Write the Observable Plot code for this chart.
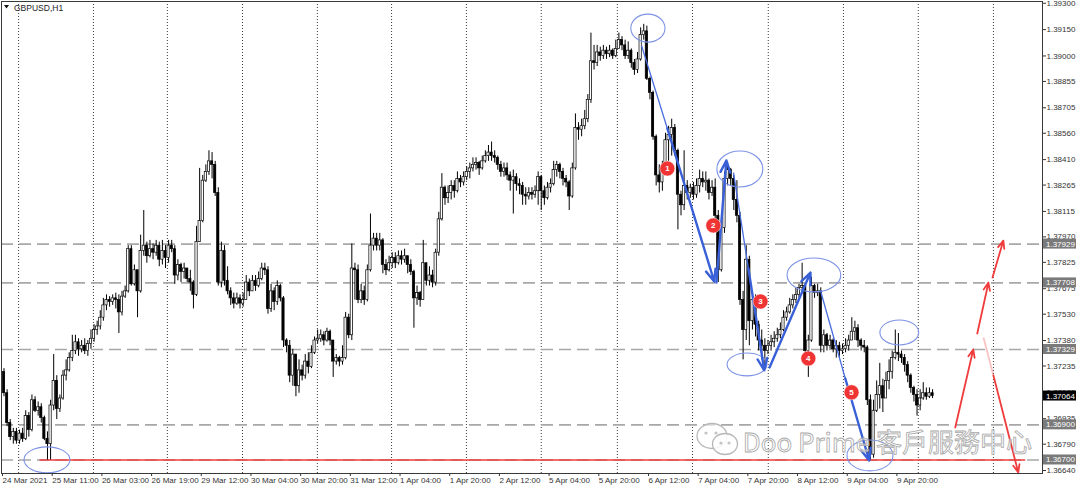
<!DOCTYPE html>
<html><head><meta charset="utf-8">
<script src="https://cdn.jsdelivr.net/npm/d3@7"></script>
<script src="https://cdn.jsdelivr.net/npm/@observablehq/plot@0.6"></script>
<style>
html,body{margin:0;padding:0;background:#fff;}
#chart{width:1080px;height:489px;overflow:hidden;}
</style></head><body><div id="chart"></div>
<script>
const symbol = "GBPUSD,H1";
const xLabels = ["24 Mar 2021","25 Mar 11:00","26 Mar 03:00","26 Mar 19:00","29 Mar 12:00","30 Mar 04:00","30 Mar 20:00","31 Mar 12:00","1 Apr 04:00","1 Apr 20:00","2 Apr 12:00","5 Apr 04:00","5 Apr 20:00","6 Apr 12:00","7 Apr 04:00","7 Apr 20:00","8 Apr 12:00","9 Apr 04:00","9 Apr 20:00"];
const barsPerLabel = 16;

const open = [1.3720,
1.3708,1.3691,1.3683,1.3686,1.3681,1.3685,1.3682,1.3695,1.3687,1.3704,
1.3698,1.3700,1.3694,1.3682,1.3679,1.3701,1.3715,1.3699,1.3705,1.3718,
1.3721,1.3728,1.3732,1.3737,1.3733,1.3735,1.3732,1.3736,1.3739,1.3744,
1.3746,1.3751,1.3758,1.3761,1.3760,1.3762,1.3761,1.3754,1.3763,1.3766,
1.3790,1.3770,1.3778,1.3766,1.3789,1.3792,1.3786,1.3790,1.3788,1.3792,
1.3784,1.3789,1.3785,1.3792,1.3790,1.3775,1.3781,1.3777,1.3779,1.3773,
1.3771,1.3764,1.3794,1.3806,1.3829,1.3834,1.3840,1.3838,1.3822,1.3771,
1.3789,1.3772,1.3766,1.3762,1.3759,1.3762,1.3759,1.3761,1.3771,1.3766,
1.3772,1.3769,1.3773,1.3779,1.3778,1.3756,1.3766,1.3760,1.3769,1.3762,
1.3738,1.3735,1.3718,1.3730,1.3712,1.3721,1.3718,1.3726,1.3723,1.3731,
1.3738,1.3739,1.3741,1.3738,1.3743,1.3738,1.3726,1.3728,1.3726,1.3728,
1.3751,1.3741,1.3779,1.3778,1.3761,1.3766,1.3761,1.3778,1.3792,1.3796,
1.3792,1.3795,1.3781,1.3778,1.3782,1.3785,1.3782,1.3786,1.3784,1.3786,
1.3781,1.3777,1.3762,1.3765,1.3761,1.3782,1.3772,1.3775,1.3771,1.3788,
1.3807,1.3825,1.3819,1.3822,1.3826,1.3823,1.3830,1.3828,1.3831,1.3834,
1.3836,1.3838,1.3839,1.3836,1.3840,1.3843,1.3845,1.3843,1.3842,1.3838,
1.3834,1.3836,1.3832,1.3829,1.3831,1.3827,1.3826,1.3821,1.3820,1.3822,
1.3821,1.3823,1.3831,1.3823,1.3819,1.3825,1.3827,1.3835,1.3838,1.3834,
1.3830,1.3828,1.3820,1.3836,1.3859,1.3858,1.3860,1.3864,1.3875,1.3897,
1.3896,1.3902,1.3900,1.3903,1.3901,1.3903,1.3900,1.3904,1.3909,1.3906,
1.3900,1.3903,1.3896,1.3892,1.3898,1.3912,1.3914,1.3887,1.3879,1.3854,
1.3832,1.3828,1.3836,1.3852,1.3855,1.3859,1.3846,1.3821,1.3815,1.3826,
1.3822,1.3825,1.3821,1.3826,1.3830,1.3828,1.3829,1.3822,1.3825,1.3809,
1.3778,1.3802,1.3830,1.3835,1.3830,1.3818,1.3809,1.3761,1.3744,1.3784,
1.3749,1.3761,1.3747,1.3738,1.3735,1.3732,1.3735,1.3737,1.3739,1.3741,
1.3744,1.3751,1.3754,1.3758,1.3761,1.3764,1.3768,1.3769,1.3732,1.3738,
1.3769,1.3765,1.3766,1.3735,1.3741,1.3735,1.3738,1.3733,1.3735,1.3732,
1.3733,1.3735,1.3738,1.3743,1.3745,1.3738,1.3735,1.3734,1.3704,1.3673,
1.3698,1.3707,1.3712,1.3705,1.3715,1.3720,1.3728,1.3731,1.3730,1.3728,
1.3724,1.3718,1.3711,1.3707,1.3701,1.3705,1.3708,1.3706,1.3708];

const high = [
1.3722,1.3710,1.3693,1.3688,1.3688,1.3687,1.3688,1.3698,1.3697,1.3707,
1.3706,1.3703,1.3702,1.3695,1.3686,1.3704,1.3730,1.3718,1.3707,1.3721,
1.3727,1.3731,1.3741,1.3741,1.3739,1.3738,1.3739,1.3738,1.3744,1.3747,
1.3749,1.3755,1.3762,1.3764,1.3763,1.3764,1.3765,1.3764,1.3766,1.3769,
1.3792,1.3792,1.3781,1.3778,1.3798,1.3812,1.3794,1.3795,1.3793,1.3795,
1.3794,1.3795,1.3792,1.3795,1.3795,1.3792,1.3784,1.3782,1.3782,1.3779,
1.3778,1.3772,1.3803,1.3836,1.3832,1.3838,1.3846,1.3845,1.3840,1.3825,
1.3794,1.3792,1.3780,1.3768,1.3765,1.3765,1.3764,1.3765,1.3775,1.3773,
1.3775,1.3775,1.3777,1.3782,1.3782,1.3780,1.3770,1.3768,1.3772,1.3770,
1.3763,1.3739,1.3738,1.3733,1.3730,1.3727,1.3724,1.3730,1.3731,1.3735,
1.3740,1.3744,1.3744,1.3743,1.3745,1.3744,1.3738,1.3730,1.3729,1.3735,
1.3754,1.3753,1.3793,1.3782,1.3781,1.3770,1.3769,1.3781,1.3810,1.3799,
1.3799,1.3799,1.3796,1.3784,1.3786,1.3788,1.3788,1.3789,1.3789,1.3790,
1.3786,1.3784,1.3778,1.3769,1.3766,1.3795,1.3782,1.3780,1.3778,1.3790,
1.3811,1.3833,1.3826,1.3826,1.3829,1.3829,1.3834,1.3832,1.3834,1.3837,
1.3839,1.3842,1.3842,1.3840,1.3843,1.3846,1.3849,1.3851,1.3846,1.3843,
1.3840,1.3839,1.3839,1.3834,1.3835,1.3833,1.3830,1.3828,1.3825,1.3825,
1.3825,1.3826,1.3834,1.3832,1.3826,1.3828,1.3830,1.3840,1.3840,1.3839,
1.3836,1.3832,1.3829,1.3839,1.3867,1.3862,1.3864,1.3869,1.3878,1.3913,
1.3906,1.3906,1.3905,1.3906,1.3905,1.3906,1.3904,1.3909,1.3913,1.3911,
1.3909,1.3908,1.3904,1.3898,1.3902,1.3916,1.3918,1.3917,1.3888,1.3880,
1.3855,1.3838,1.3840,1.3856,1.3860,1.3864,1.3861,1.3847,1.3823,1.3846,
1.3829,1.3827,1.3828,1.3830,1.3835,1.3834,1.3834,1.3830,1.3829,1.3830,
1.3812,1.3803,1.3834,1.3839,1.3836,1.3832,1.3829,1.3811,1.3766,1.3792,
1.3786,1.3766,1.3764,1.3749,1.3744,1.3739,1.3738,1.3741,1.3743,1.3745,
1.3748,1.3755,1.3757,1.3762,1.3764,1.3768,1.3770,1.3782,1.3770,1.3741,
1.3774,1.3770,1.3770,1.3768,1.3744,1.3742,1.3741,1.3739,1.3738,1.3737,
1.3736,1.3739,1.3741,1.3751,1.3749,1.3747,1.3739,1.3738,1.3735,1.3707,
1.3704,1.3715,1.3725,1.3716,1.3720,1.3727,1.3732,1.3744,1.3742,1.3732,
1.3730,1.3726,1.3719,1.3712,1.3710,1.3710,1.3714,1.3711,1.3711,1.3710];

const low = [
1.3706,1.3689,1.3681,1.3679,1.3679,1.3679,1.3680,1.3681,1.3683,1.3686,
1.3697,1.3695,1.3691,1.3681,1.3670,1.3670,1.3698,1.3693,1.3697,1.3704,
1.3715,1.3720,1.3726,1.3730,1.3729,1.3731,1.3730,1.3729,1.3733,1.3737,
1.3741,1.3744,1.3749,1.3755,1.3757,1.3758,1.3756,1.3742,1.3752,1.3762,
1.3765,1.3769,1.3769,1.3751,1.3765,1.3786,1.3782,1.3785,1.3784,1.3786,
1.3780,1.3781,1.3779,1.3782,1.3788,1.3770,1.3772,1.3771,1.3773,1.3771,
1.3766,1.3756,1.3763,1.3794,1.3805,1.3828,1.3832,1.3830,1.3820,1.3769,
1.3768,1.3769,1.3764,1.3758,1.3756,1.3758,1.3756,1.3757,1.3761,1.3763,
1.3766,1.3766,1.3768,1.3772,1.3775,1.3753,1.3754,1.3755,1.3758,1.3760,
1.3734,1.3731,1.3714,1.3712,1.3706,1.3708,1.3715,1.3716,1.3719,1.3722,
1.3730,1.3736,1.3737,1.3735,1.3737,1.3735,1.3717,1.3724,1.3723,1.3724,
1.3727,1.3739,1.3738,1.3761,1.3759,1.3759,1.3758,1.3760,1.3777,1.3789,
1.3789,1.3789,1.3776,1.3775,1.3777,1.3779,1.3779,1.3781,1.3781,1.3782,
1.3776,1.3775,1.3745,1.3758,1.3757,1.3761,1.3769,1.3769,1.3768,1.3769,
1.3786,1.3806,1.3815,1.3816,1.3818,1.3819,1.3822,1.3825,1.3826,1.3829,
1.3830,1.3834,1.3835,1.3832,1.3835,1.3839,1.3840,1.3840,1.3839,1.3835,
1.3831,1.3831,1.3829,1.3823,1.3810,1.3823,1.3821,1.3815,1.3815,1.3818,
1.3818,1.3819,1.3815,1.3812,1.3815,1.3818,1.3822,1.3826,1.3831,1.3830,
1.3826,1.3825,1.3812,1.3819,1.3835,1.3852,1.3854,1.3858,1.3862,1.3873,
1.3892,1.3894,1.3897,1.3898,1.3898,1.3899,1.3898,1.3899,1.3904,1.3903,
1.3898,1.3898,1.3893,1.3889,1.3890,1.3897,1.3909,1.3886,1.3875,1.3852,
1.3826,1.3822,1.3823,1.3832,1.3840,1.3843,1.3843,1.3801,1.3809,1.3812,
1.3818,1.3819,1.3818,1.3819,1.3822,1.3825,1.3823,1.3818,1.3820,1.3806,
1.3771,1.3777,1.3799,1.3826,1.3826,1.3812,1.3805,1.3758,1.3727,1.3738,
1.3735,1.3744,1.3740,1.3732,1.3727,1.3724,1.3730,1.3732,1.3734,1.3737,
1.3739,1.3743,1.3749,1.3753,1.3756,1.3759,1.3762,1.3765,1.3730,1.3717,
1.3737,1.3762,1.3763,1.3731,1.3731,1.3732,1.3733,1.3731,1.3728,1.3728,
1.3730,1.3731,1.3732,1.3738,1.3738,1.3734,1.3732,1.3731,1.3701,1.3670,
1.3671,1.3697,1.3699,1.3697,1.3707,1.3710,1.3716,1.3727,1.3726,1.3725,
1.3720,1.3714,1.3708,1.3703,1.3695,1.3698,1.3704,1.3704,1.3705,1.3705];

const close = [
1.3708,1.3691,1.3683,1.3686,1.3681,1.3685,1.3682,1.3695,1.3687,1.3704,
1.3698,1.3700,1.3694,1.3682,1.3679,1.3701,1.3715,1.3699,1.3705,1.3718,
1.3721,1.3728,1.3732,1.3737,1.3733,1.3735,1.3732,1.3736,1.3739,1.3744,
1.3746,1.3751,1.3758,1.3761,1.3760,1.3762,1.3761,1.3754,1.3763,1.3766,
1.3790,1.3770,1.3778,1.3766,1.3789,1.3792,1.3786,1.3790,1.3788,1.3792,
1.3784,1.3789,1.3785,1.3792,1.3790,1.3775,1.3781,1.3777,1.3779,1.3773,
1.3771,1.3764,1.3794,1.3806,1.3829,1.3834,1.3840,1.3838,1.3822,1.3771,
1.3789,1.3772,1.3766,1.3762,1.3759,1.3762,1.3759,1.3761,1.3771,1.3766,
1.3772,1.3769,1.3773,1.3779,1.3778,1.3756,1.3766,1.3760,1.3769,1.3762,
1.3738,1.3735,1.3718,1.3730,1.3712,1.3721,1.3718,1.3726,1.3723,1.3731,
1.3738,1.3739,1.3741,1.3738,1.3743,1.3738,1.3726,1.3728,1.3726,1.3728,
1.3751,1.3741,1.3779,1.3778,1.3761,1.3766,1.3761,1.3778,1.3792,1.3796,
1.3792,1.3795,1.3781,1.3778,1.3782,1.3785,1.3782,1.3786,1.3784,1.3786,
1.3781,1.3777,1.3762,1.3765,1.3761,1.3782,1.3772,1.3775,1.3771,1.3788,
1.3807,1.3825,1.3819,1.3822,1.3826,1.3823,1.3830,1.3828,1.3831,1.3834,
1.3836,1.3838,1.3839,1.3836,1.3840,1.3843,1.3845,1.3843,1.3842,1.3838,
1.3834,1.3836,1.3832,1.3829,1.3831,1.3827,1.3826,1.3821,1.3820,1.3822,
1.3821,1.3823,1.3831,1.3823,1.3819,1.3825,1.3827,1.3835,1.3838,1.3834,
1.3830,1.3828,1.3820,1.3836,1.3859,1.3858,1.3860,1.3864,1.3875,1.3897,
1.3896,1.3902,1.3900,1.3903,1.3901,1.3903,1.3900,1.3904,1.3909,1.3906,
1.3900,1.3903,1.3896,1.3892,1.3898,1.3912,1.3914,1.3887,1.3879,1.3854,
1.3832,1.3828,1.3836,1.3852,1.3855,1.3859,1.3846,1.3821,1.3815,1.3826,
1.3822,1.3825,1.3821,1.3826,1.3830,1.3828,1.3829,1.3822,1.3825,1.3809,
1.3778,1.3802,1.3830,1.3835,1.3830,1.3818,1.3809,1.3761,1.3744,1.3784,
1.3749,1.3761,1.3747,1.3738,1.3735,1.3732,1.3735,1.3737,1.3739,1.3741,
1.3744,1.3751,1.3754,1.3758,1.3761,1.3764,1.3768,1.3769,1.3732,1.3738,
1.3769,1.3765,1.3766,1.3735,1.3741,1.3735,1.3738,1.3733,1.3735,1.3732,
1.3733,1.3735,1.3738,1.3743,1.3745,1.3738,1.3735,1.3734,1.3704,1.3673,
1.3698,1.3707,1.3712,1.3705,1.3715,1.3720,1.3728,1.3731,1.3730,1.3728,
1.3724,1.3718,1.3711,1.3707,1.3701,1.3705,1.3708,1.3706,1.3708,1.37064];

const yTicks = [1.39300,1.39150,1.39000,1.38855,1.38705,1.38560,1.38410,1.38265,1.38115,1.37970,1.37825,1.37675,1.37530,1.37380,1.37235,1.37085,1.36935,1.36790,1.36640];
const levels = [1.37929,1.37708,1.37329,1.36900,1.36700];
const lastPrice = 1.37064;
const gridBars = [4.7,28.8,52.6,76.8,100.9,124.8,148.9,173,197.5,221.7,246.1,270.3,294.4,318.6];
const support = [{price:1.36700, fromBar:11.6, toBar:329}];
const ellipses = [
  {b1:202.0,b2:213.0,p1:1.39235,p2:1.39076},
  {b1:229.7,b2:244.5,p1:1.38456,p2:1.38251},
  {b1:233.0,b2:245.8,p1:1.37306,p2:1.37176},
  {b1:252.3,b2:269.6,p1:1.37847,p2:1.37654},
  {b1:271.6,b2:286.4,p1:1.36811,p2:1.36635},
  {b1:282.2,b2:294.7,p1:1.37494,p2:1.37352},
  {b1:6.6,b2:21.4,p1:1.36772,p2:1.36624}
];
const blueThin = [
  {b1:205.3,p1:1.39059,b2:213.6,p2:1.38587},
  {b1:234.9,p1:1.38336,b2:239.7,p2:1.37790},
  {b1:262.9,p1:1.37665,b2:270.9,p2:1.37164}
];
const blueArrows = [
  {b1:213.6,p1:1.38587,b2:228.7,p2:1.37716},
  {b1:229.4,p1:1.37710,b2:232.6,p2:1.38405},
  {b1:239.7,p1:1.37790,b2:244.8,p2:1.37210},
  {b1:246.5,p1:1.37227,b2:259.7,p2:1.37767},
  {b1:270.9,p1:1.37164,b2:278.6,p2:1.36697}
];
const redArrows = [
  {b1:306.3,p1:1.36885,b2:312.1,p2:1.37329},
  {b1:313.4,p1:1.37420,b2:317.0,p2:1.37710},
  {b1:318.3,p1:1.37739,b2:321.8,p2:1.37949},
  {b1:318.6,p1:1.37181,b2:326.6,p2:1.36629}
];
const redFaded = [{b1:315.4,p1:1.37397,b2:318.6,p2:1.37181}];
const markers = [
  {n:"1",bar:213.6,price:1.38359},
  {n:"2",bar:228.4,price:1.38035},
  {n:"3",bar:243.6,price:1.37602},
  {n:"4",bar:259.0,price:1.37278},
  {n:"5",bar:272.9,price:1.37085}
];
const watermark = "Doo Prime 客戶服務中心";

const candles = close.map((c, i) => ({i, open: open[i], high: high[i], low: low[i], close: c}));
const tickBars = xLabels.map((_, k) => k * barsPerLabel - 0.8);
const FONT = "'Liberation Sans', Arial, sans-serif";

function ellipseMark(index, scales) {
  const g = d3.create("svg:g");
  for (const e of ellipses) {
    const X1 = scales.x(e.b1), X2 = scales.x(e.b2), Y1 = scales.y(e.p1), Y2 = scales.y(e.p2);
    g.append("ellipse").attr("cx", (X1 + X2) / 2).attr("cy", (Y1 + Y2) / 2)
      .attr("rx", Math.abs(X2 - X1) / 2).attr("ry", Math.abs(Y2 - Y1) / 2)
      .attr("fill", "none").attr("stroke", "#7d93e6").attr("stroke-width", 1.1);
  }
  return g.node();
}

function titleMark(index, scales, values, dims) {
  const g = d3.create("svg:g");
  const x0 = dims.marginLeft, y0 = dims.marginTop;
  g.append("path").attr("d", `M${x0+3},${y0+4}h5l-2.5,3.5z`).attr("fill", "#111");
  g.append("text").attr("x", x0 + 13).attr("y", y0 + 9.5).attr("font-size", 8.5)
    .attr("text-anchor", "start")
    .attr("font-family", FONT).attr("fill", "#222").text(symbol);
  return g.node();
}

function watermarkMark(index, scales, values, dims) {
  const g = d3.create("svg:g");
  const right = dims.width - dims.marginRight, bottom = dims.height - dims.marginBottom;
  const ix = right - 330, iy = bottom - 37;
  g.append("ellipse").attr("cx", ix).attr("cy", iy).attr("rx", 15).attr("ry", 12.5)
    .attr("fill", "rgba(255,255,255,0.6)").attr("stroke", "#b8b8b8").attr("stroke-width", 1.3);
  g.append("ellipse").attr("cx", ix + 13).attr("cy", iy + 8).attr("rx", 12.5).attr("ry", 10.5)
    .attr("fill", "rgba(255,255,255,0.85)").attr("stroke", "#b8b8b8").attr("stroke-width", 1.3);
  for (const [dx, dy] of [[-6, -3], [4, -3], [9, 7], [17, 7]]) {
    g.append("circle").attr("cx", ix + dx).attr("cy", iy + dy).attr("r", 1.6).attr("fill", "#c4c4c4");
  }
  g.append("text").attr("x", right - 10).attr("y", bottom - 21).attr("text-anchor", "end")
    .attr("font-family", "'Noto Sans CJK TC', 'Noto Sans', sans-serif").attr("font-size", 26)
    .attr("fill", "rgba(255,255,255,0.55)").attr("stroke", "#a8a8a8").attr("stroke-width", 0.8)
    .text(watermark);
  return g.node();
}

function priceBoxes(index, scales, values, dims) {
  const g = d3.create("svg:g");
  const x0 = dims.width - dims.marginRight + 1;
  const box = (p, color) => {
    const y = scales.y(p);
    g.append("rect").attr("x", x0).attr("y", y - 5).attr("width", 33).attr("height", 10).attr("fill", color);
    g.append("text").attr("x", x0 + 3).attr("y", y + 3).attr("font-size", 8).attr("font-family", FONT)
      .attr("text-anchor", "start").attr("fill", "#fff").text(d3.format(".5f")(p));
  };
  for (const p of levels) box(p, "#7a7a7a");
  box(lastPrice, "#000");
  return g.node();
}

const chart = Plot.plot({
  width: 1080, height: 489,
  marginLeft: 1, marginRight: 38, marginTop: 1, marginBottom: 16,
  style: {fontFamily: FONT, fontSize: "8px", background: "#fff", color: "#333", overflow: "visible"},
  x: {type: "linear", domain: [-0.805, 334.4]},
  y: {type: "linear", domain: [1.36623, 1.39310]},
  marks: [
    Plot.ruleX(gridBars, {stroke: "#3c3c3c", strokeDasharray: "1,2", strokeWidth: 1}),
    Plot.ruleY(levels, {stroke: "#a8a8a8", strokeWidth: 1.6, strokeDasharray: "12,6"}),
    Plot.ruleY(support, {y: "price", x1: "fromBar", x2: "toBar", stroke: "#ee3b3b", strokeWidth: 1.6}),
    Plot.ruleX(candles, {x: "i", y1: "low", y2: "high", stroke: "#000", strokeWidth: 1}),
    Plot.rect(candles, {x1: d => d.i - 0.36, x2: d => d.i + 0.36, y1: "open", y2: "close",
      fill: d => d.close >= d.open ? "#fff" : "#000", stroke: "#000", strokeWidth: 0.7}),
    ellipseMark,
    Plot.link(blueThin, {x1: "b1", y1: "p1", x2: "b2", y2: "p2", stroke: "#4a6ee0", strokeWidth: 1.3}),
    Plot.arrow(blueArrows, {x1: "b1", y1: "p1", x2: "b2", y2: "p2", stroke: "#3a60d8", strokeWidth: 2.4, headLength: 8, headAngle: 45}),
    Plot.link(redFaded, {x1: "b1", y1: "p1", x2: "b2", y2: "p2", stroke: "#f03c3c", strokeOpacity: 0.3, strokeWidth: 1.8}),
    Plot.arrow(redArrows, {x1: "b1", y1: "p1", x2: "b2", y2: "p2", stroke: "#f03c3c", strokeWidth: 1.8, headLength: 7, headAngle: 45}),
    Plot.dot(markers, {x: "bar", y: "price", r: 7.5, fill: "#f03434", stroke: "#fff", strokeWidth: 0.5}),
    Plot.text(markers, {x: "bar", y: "price", text: "n", fill: "#fff", fontSize: 8, fontWeight: "bold"}),
    watermarkMark,
    Plot.axisX({ticks: tickBars, tickFormat: d => xLabels[Math.round((d + 0.8) / barsPerLabel)],
      tickSize: 3, tickPadding: 1, textAnchor: "start", dx: 1, fontSize: 8, label: null, stroke: "#333", fill: "#333"}),
    Plot.axisY({anchor: "right", ticks: yTicks, tickFormat: d3.format(".5f"), tickSize: 3, tickPadding: 1,
      fontSize: 8, label: null, stroke: "#333", fill: "#333"}),
    priceBoxes,
    titleMark,
    Plot.frame({stroke: "#3a3a3a"})
  ]
});
document.getElementById("chart").append(chart);
</script>
</body></html>
